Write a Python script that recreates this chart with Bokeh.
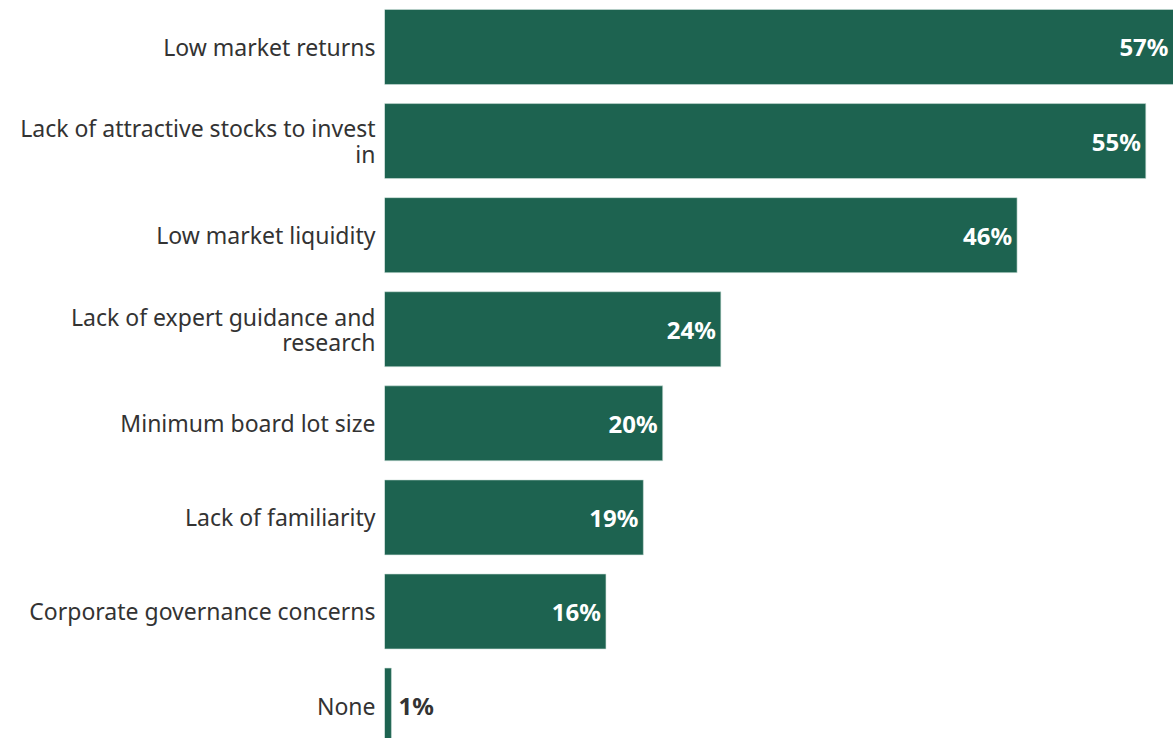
from bokeh.plotting import figure
from bokeh.models import Range1d, FixedTicker, ColumnDataSource
from bokeh.core.properties import value
from bokeh.embed import file_html
from bokeh.resources import INLINE

categories = [
    "Low market returns",
    "Lack of attractive stocks to invest\nin",
    "Low market liquidity",
    "Lack of expert guidance and\nresearch",
    "Minimum board lot size",
    "Lack of familiarity",
    "Corporate governance concerns",
    "None",
]
# bar lengths (unrounded shares, in %)
values = [57.0, 55.0, 45.7, 24.3, 20.1, 18.7, 16.0, 0.5]
# printed labels
value_labels = ["57%", "55%", "46%", "24%", "20%", "19%", "16%", "1%"]

BAR = "#1d6350"
FONT = "Noto Sans"

pos = list(range(len(categories)))
inside = [i for i, v in enumerate(values) if v >= 5]
outside = [i for i, v in enumerate(values) if v < 5]

src = ColumnDataSource(dict(y=pos, v=values, lab=value_labels))
src_in = ColumnDataSource(dict(y=[pos[i] for i in inside], v=[values[i] for i in inside],
                               lab=[value_labels[i] for i in inside]))
src_out = ColumnDataSource(dict(y=[pos[i] for i in outside], v=[values[i] for i in outside],
                                lab=[value_labels[i] for i in outside]))

p = figure(width=1173, height=738, output_backend="svg", toolbar_location=None,
           x_range=Range1d(0, 57), y_range=Range1d(7.35, -0.494),
           min_border_left=384, min_border_right=0, min_border_top=0, min_border_bottom=0)

p.hbar(y="y", left=0, right="v", height=0.797, source=src, fill_color=BAR,
       line_color="#cfe0da", line_width=0.6)

p.text(x="v", y="y", text="lab", source=src_in, text_align="right", text_baseline="middle",
       x_offset=-5, text_color="white", text_font=value(FONT), text_font_style="bold",
       text_font_size="24px")
p.text(x="v", y="y", text="lab", source=src_out, text_align="left", text_baseline="middle",
       x_offset=7, text_color="#333333", text_font=value(FONT), text_font_style="bold",
       text_font_size="24px")

p.xaxis.visible = False
p.xgrid.visible = False
p.ygrid.visible = False
p.outline_line_color = None

ya = p.yaxis[0]
ya.ticker = FixedTicker(ticks=pos)
ya.major_label_overrides = {i: c for i, c in zip(pos, categories)}
ya.axis_line_color = None
ya.major_tick_line_color = None
ya.minor_tick_line_color = None
ya.major_label_text_font = FONT
ya.major_label_text_font_size = "23px"
ya.major_label_text_color = "#333333"
ya.major_label_standoff = 3
ya.major_label_text_line_height = 0.79

open("out.html", "w").write(file_html(p, INLINE))
